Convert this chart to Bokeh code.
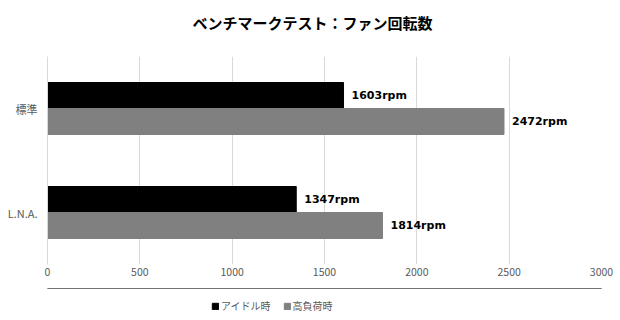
from bokeh.plotting import figure
from bokeh.layouts import column
from bokeh.models import ColumnDataSource, Legend, LegendItem, FactorRange, LabelSet, Label, FixedTicker, Range1d
from bokeh.transform import dodge
from bokeh.core.properties import value
from bokeh.embed import file_html
from bokeh.resources import INLINE

categories = ["標準", "L.N.A."]
series = ["アイドル時", "高負荷時"]
idle = [1603, 1347]
load = [2472, 1814]
colors = ["#000000", "#808080"]
x_ticks = [0, 500, 1000, 1500, 2000, 2500, 3000]
title = "ベンチマークテスト：ファン回転数"

jp = "Noto Sans CJK JP"

src = ColumnDataSource(dict(
    cat=categories,
    idle=idle,
    load=load,
    idle_lbl=[f"{v}rpm" for v in idle],
    load_lbl=[f"{v}rpm" for v in load],
))

# ---- title strip ----
tfig = figure(width=620, height=40, x_range=Range1d(0, 1), y_range=Range1d(0, 1),
              x_axis_type=None, y_axis_type=None, output_backend="svg",
              toolbar_location=None, min_border=0)
tfig.outline_line_color = None
tfig.grid.visible = False
tfig.add_layout(Label(x=265, y=18, x_units="screen", y_units="screen", text=title,
                      text_align="center", text_baseline="middle", text_font=jp,
                      text_font_size="15px", text_font_style="bold", text_color="#000000"))

# ---- main chart ----
p = figure(frame_width=554, frame_height=208, y_range=FactorRange(*categories[::-1]),
           x_range=(0, 3000), output_backend="svg", toolbar_location=None,
           min_border_left=47, min_border_right=19, min_border_top=16,
           min_border_bottom=24)

bw = 0.25
p.hbar(y=dodge("cat", bw / 2, range=p.y_range), right="idle", left=0, height=bw,
       color=colors[0], source=src)
p.hbar(y=dodge("cat", -bw / 2, range=p.y_range), right="load", left=0, height=bw,
       color=colors[1], source=src)

for col, lbl, off in [("idle", "idle_lbl", bw / 2), ("load", "load_lbl", -bw / 2)]:
    p.add_layout(LabelSet(x=col, y=dodge("cat", off, range=p.y_range), text=lbl,
                          x_offset=8, text_baseline="middle", text_font=value("DejaVu Sans"),
                          text_font_style="bold", text_font_size="11px",
                          text_color="#000000", source=src))

p.outline_line_color = None
p.ygrid.grid_line_color = None
p.xgrid.grid_line_color = "#d9d9d9"
p.xaxis.ticker = FixedTicker(ticks=x_ticks)
p.xaxis.axis_line_color = None
p.xaxis.major_tick_line_color = None
p.xaxis.minor_tick_line_color = None
p.xaxis.major_tick_out = 0
p.xaxis.major_tick_in = 0
p.xaxis.major_label_text_font = jp
p.xaxis.major_label_text_font_size = "10.5px"
p.xaxis.major_label_text_color = "#595959"
p.xaxis.major_label_standoff = 3

p.yaxis.axis_line_color = "#d9d9d9"
p.yaxis.major_tick_line_color = None
p.yaxis.minor_tick_line_color = None
p.yaxis.major_tick_out = 0
p.yaxis.major_tick_in = 0
p.yaxis.major_label_text_font = jp
p.yaxis.major_label_text_font_size = "11px"
p.yaxis.major_label_text_color = "#595959"
p.yaxis.major_label_standoff = 10

# ---- legend strip ----
lfig = figure(width=620, height=32, x_range=Range1d(0, 1), y_range=Range1d(0, 1),
              x_axis_type=None, y_axis_type=None, output_backend="svg",
              toolbar_location=None, min_border=0)
lfig.outline_line_color = None
lfig.grid.visible = False
# one point each, placed outside the visible range, so the legend draws swatches
lr1 = lfig.hbar(y=[10], right=[1], left=0, height=0.1, color=colors[0])
lr2 = lfig.hbar(y=[10], right=[1], left=0, height=0.1, color=colors[1])
legend = Legend(items=[LegendItem(label=series[0], renderers=[lr1]),
                       LegendItem(label=series[1], renderers=[lr2])],
                orientation="horizontal", location=(164, 7),
                glyph_width=8, glyph_height=8, spacing=12, label_standoff=2,
                label_text_font=jp, label_text_font_size="10px",
                label_text_color="#595959", border_line_color=None,
                background_fill_alpha=0, margin=0, padding=0)
lfig.add_layout(legend)

layout = column(tfig, p, lfig, spacing=0)
open("out.html", "w").write(file_html(layout, INLINE))
